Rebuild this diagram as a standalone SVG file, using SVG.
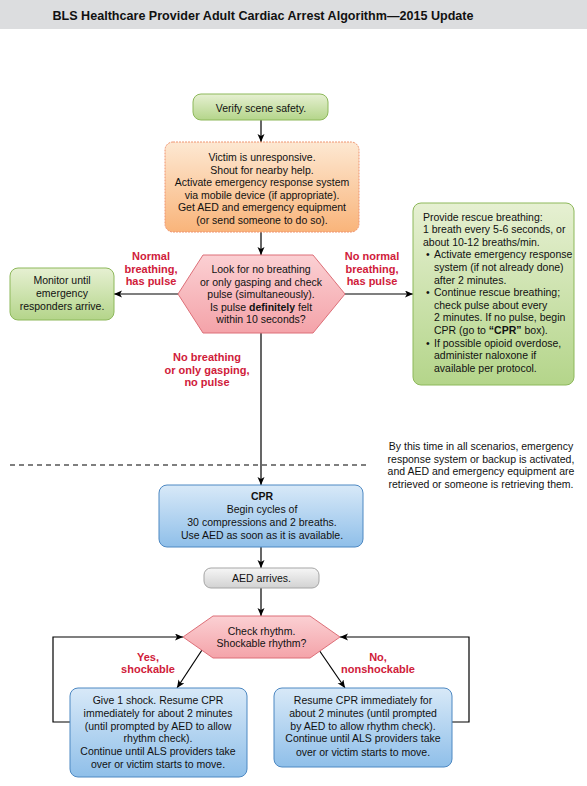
<svg xmlns="http://www.w3.org/2000/svg" width="587" height="786" viewBox="0 0 587 786">
<defs>
<linearGradient id="gGreen" x1="0" y1="0" x2="0" y2="1"><stop offset="0" stop-color="#e6f0d2"/><stop offset="1" stop-color="#b4d58a"/></linearGradient>
<linearGradient id="gOrange" x1="0" y1="0" x2="0" y2="1"><stop offset="0" stop-color="#fde8d2"/><stop offset="1" stop-color="#f9b47a"/></linearGradient>
<linearGradient id="gPink" x1="0" y1="0" x2="0" y2="1"><stop offset="0" stop-color="#fbd0d3"/><stop offset="1" stop-color="#f4a3a9"/></linearGradient>
<linearGradient id="gBlue" x1="0" y1="0" x2="0" y2="1"><stop offset="0" stop-color="#d8e9f8"/><stop offset="1" stop-color="#8fbfe9"/></linearGradient>
<linearGradient id="gGray" x1="0" y1="0" x2="0" y2="1"><stop offset="0" stop-color="#f6f6f6"/><stop offset="1" stop-color="#d2d2d2"/></linearGradient>
<marker id="arr" markerUnits="userSpaceOnUse" markerWidth="10" markerHeight="8" refX="8" refY="3.5" orient="auto"><path d="M0,0 L8,3.5 L0,7 L2,3.5 Z" fill="#000"/></marker>
</defs>
<style>
.t{font-family:"Liberation Sans",Arial,sans-serif;font-size:10.5px;fill:#111;}
.c{text-anchor:middle;}
.r{font-family:"Liberation Sans",Arial,sans-serif;font-size:11px;font-weight:bold;fill:#d0203a;text-anchor:middle;}
.green{fill:url(#gGreen);stroke:#8db85a;stroke-width:1;}
.orange{fill:url(#gOrange);stroke:#ef9470;stroke-width:1;stroke-dasharray:2 1;}
.pink{fill:url(#gPink);stroke:#dd6f78;stroke-width:1;}
.blue{fill:url(#gBlue);stroke:#4d88c2;stroke-width:1;}
.gray{fill:url(#gGray);stroke:#a5a5a5;stroke-width:1;}
.ln{fill:none;stroke:#000;stroke-width:1.2;}
</style>
<rect x="0" y="0" width="587" height="29" fill="#dcdddf"/>
<text x="263" y="19.5" font-family="Liberation Sans,Arial,sans-serif" font-size="12.5" font-weight="bold" fill="#111" text-anchor="middle" textLength="421" lengthAdjust="spacingAndGlyphs">BLS Healthcare Provider Adult Cardiac Arrest Algorithm—2015 Update</text>

<g id="connectors">
<line class="ln" x1="261" y1="120" x2="261" y2="142" marker-end="url(#arr)"/>
<line class="ln" x1="261" y1="232" x2="261" y2="255" marker-end="url(#arr)"/>
<line class="ln" x1="178" y1="294" x2="114" y2="294" marker-end="url(#arr)"/>
<line class="ln" x1="345" y1="294" x2="413" y2="294" marker-end="url(#arr)"/>
<line class="ln" x1="261" y1="333" x2="261" y2="485" marker-end="url(#arr)"/>
<line class="ln" x1="261" y1="547" x2="261" y2="568" marker-end="url(#arr)"/>
<line class="ln" x1="261" y1="588" x2="261" y2="616" marker-end="url(#arr)"/>
<line class="ln" x1="202" y1="650" x2="177" y2="688" marker-end="url(#arr)"/>
<line class="ln" x1="319" y1="650" x2="345" y2="688" marker-end="url(#arr)"/>
<polyline class="ln" points="70,722 53,722 53,637 183,637" marker-end="url(#arr)"/>
<polyline class="ln" points="452,722 469,722 469,637 340,637" marker-end="url(#arr)"/>
</g>

<line x1="10" y1="465" x2="370" y2="465" stroke="#000" stroke-width="1.2" stroke-dasharray="5 4"/>

<g id="verify">
<rect class="green" x="193" y="94" width="135" height="26" rx="8"/>
<text class="t c" x="261" y="111.5">Verify scene safety.</text>
</g>

<g id="victim">
<rect class="orange" x="165" y="142" width="194" height="90" rx="8"/>
<text class="t c" x="262" y="161">Victim is unresponsive.</text>
<text class="t c" x="262" y="173.6">Shout for nearby help.</text>
<text class="t c" x="262" y="186.2">Activate emergency response system</text>
<text class="t c" x="262" y="198.8">via mobile device (if appropriate).</text>
<text class="t c" x="262" y="211.4">Get AED and emergency equipment</text>
<text class="t c" x="262" y="224">(or send someone to do so).</text>
</g>

<g id="check-pulse">
<polygon class="pink" points="203,255 313,255 345,294 313,333 203,333 178,294"/>
<text class="t c" x="261" y="273">Look for no breathing</text>
<text class="t c" x="261" y="285.5">or only gasping and check</text>
<text class="t c" x="261" y="298">pulse (simultaneously).</text>
<text class="t c" x="261" y="310.5">Is pulse <tspan font-weight="bold">definitely</tspan> felt</text>
<text class="t c" x="261" y="323">within 10 seconds?</text>
</g>

<g id="monitor">
<rect class="green" x="10" y="268" width="104" height="52" rx="8"/>
<text class="t c" x="62" y="284">Monitor until</text>
<text class="t c" x="62" y="297">emergency</text>
<text class="t c" x="62" y="310">responders arrive.</text>
</g>

<g id="rescue-breathing">
<rect class="green" x="413" y="203" width="161" height="182" rx="8"/>
<text class="t" x="423" y="220.5">Provide rescue breathing:</text>
<text class="t" x="423" y="233.1">1 breath every 5-6 seconds, or</text>
<text class="t" x="423" y="245.7">about 10-12 breaths/min.</text>
<text class="t" x="426" y="258.3">•</text><text class="t" x="434" y="258.3">Activate emergency response</text>
<text class="t" x="434" y="270.9">system (if not already done)</text>
<text class="t" x="434" y="283.5">after 2 minutes.</text>
<text class="t" x="426" y="296.1">•</text><text class="t" x="434" y="296.1">Continue rescue breathing;</text>
<text class="t" x="434" y="308.7">check pulse about every</text>
<text class="t" x="434" y="321.3">2 minutes. If no pulse, begin</text>
<text class="t" x="434" y="333.9">CPR (go to <tspan font-weight="bold">“CPR”</tspan> box).</text>
<text class="t" x="426" y="346.5">•</text><text class="t" x="434" y="346.5">If possible opioid overdose,</text>
<text class="t" x="434" y="359.1">administer naloxone if</text>
<text class="t" x="434" y="371.7">available per protocol.</text>
</g>

<g id="labels">
<text class="r" x="151" y="260">Normal</text>
<text class="r" x="151" y="273">breathing,</text>
<text class="r" x="151" y="285">has pulse</text>
<text class="r" x="372" y="260">No normal</text>
<text class="r" x="372" y="273">breathing,</text>
<text class="r" x="372" y="285">has pulse</text>
<text class="r" x="207" y="361">No breathing</text>
<text class="r" x="207" y="374">or only gasping,</text>
<text class="r" x="207" y="386">no pulse</text>
<text class="r" x="148" y="661">Yes,</text>
<text class="r" x="148" y="673">shockable</text>
<text class="r" x="378" y="661">No,</text>
<text class="r" x="378" y="673">nonshockable</text>
</g>

<g id="note">
<text class="t c" x="481" y="450">By this time in all scenarios, emergency</text>
<text class="t c" x="481" y="462.5">response system or backup is activated,</text>
<text class="t c" x="481" y="475">and AED and emergency equipment are</text>
<text class="t c" x="481" y="487.5">retrieved or someone is retrieving them.</text>
</g>

<g id="cpr">
<rect class="blue" x="159" y="485" width="204" height="62" rx="8"/>
<text class="t c" x="262" y="500" font-weight="bold">CPR</text>
<text class="t c" x="262" y="513">Begin cycles of</text>
<text class="t c" x="262" y="526">30 compressions and 2 breaths.</text>
<text class="t c" x="262" y="539">Use AED as soon as it is available.</text>
</g>

<g id="aed">
<rect class="gray" x="204" y="568" width="115" height="20" rx="7"/>
<text class="t c" x="261.5" y="582">AED arrives.</text>
</g>

<g id="check-rhythm">
<polygon class="pink" points="213,616 310,616 340,637 310,658 213,658 183,637"/>
<text class="t c" x="261.5" y="634.5">Check rhythm.</text>
<text class="t c" x="261.5" y="647">Shockable rhythm?</text>
</g>

<g id="shock">
<rect class="blue" x="70" y="688" width="177" height="89" rx="8"/>
<text class="t c" x="158" y="704">Give 1 shock. Resume CPR</text>
<text class="t c" x="158" y="717">immediately for about 2 minutes</text>
<text class="t c" x="158" y="729.5">(until prompted by AED to allow</text>
<text class="t c" x="158" y="742">rhythm check).</text>
<text class="t c" x="158" y="755">Continue until ALS providers take</text>
<text class="t c" x="158" y="768">over or victim starts to move.</text>
</g>

<g id="no-shock">
<rect class="blue" x="274" y="688" width="178" height="79" rx="8"/>
<text class="t c" x="363" y="704">Resume CPR immediately for</text>
<text class="t c" x="363" y="717">about 2 minutes (until prompted</text>
<text class="t c" x="363" y="729.5">by AED to allow rhythm check).</text>
<text class="t c" x="363" y="742">Continue until ALS providers take</text>
<text class="t c" x="363" y="755.5">over or victim starts to move.</text>
</g>
</svg>
